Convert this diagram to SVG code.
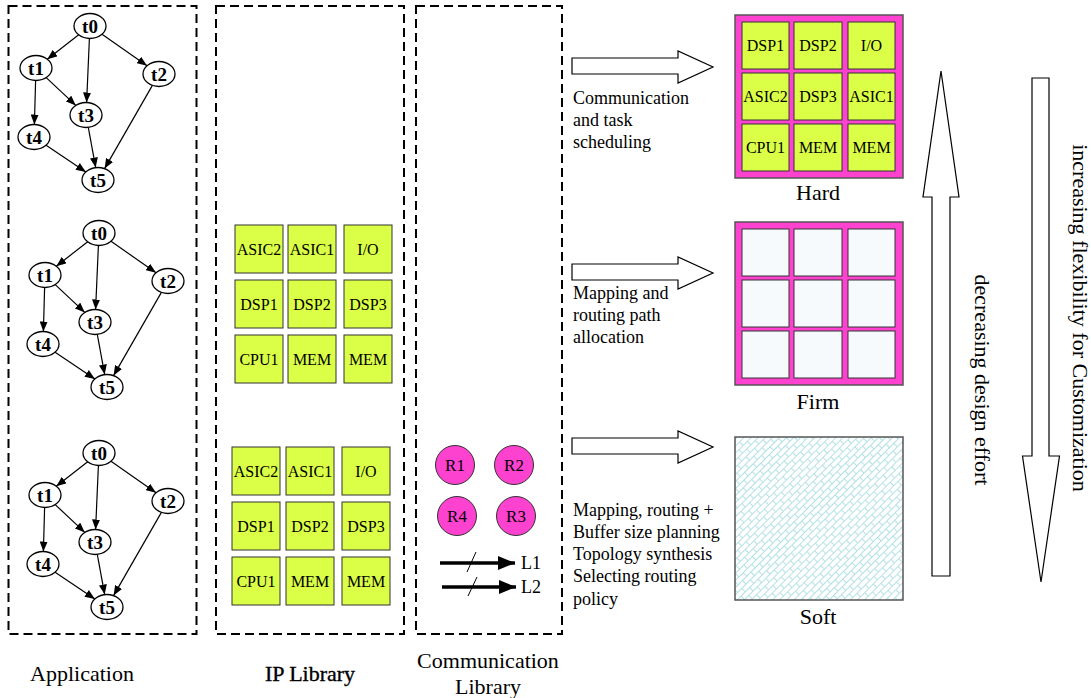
<svg xmlns="http://www.w3.org/2000/svg" width="1091" height="698" viewBox="0 0 1091 698">
<style>
text{font-family:'Liberation Serif','Times New Roman',Times,'Nimbus Roman',serif}
.box{fill:none;stroke:#000;stroke-width:2;stroke-dasharray:9 5}
.nd{fill:#fff;stroke:#000;stroke-width:1.3}
.nt{font-weight:bold;font-size:19px;text-anchor:middle;fill:#000}
.ed{stroke:#000;stroke-width:1.2;fill:none;marker-end:url(#ah)}
.ip{fill:#dbff46;stroke:#333;stroke-width:1}
.fm{fill:#f6fafd;stroke:#333;stroke-width:1}
.ct{font-size:16px;text-anchor:middle;fill:#000}
.lb{font-size:18px;fill:#000}
.big{font-size:22px;text-anchor:middle;fill:#000}
.rt{fill:#fc42cf;stroke:#333;stroke-width:1}
.rl{font-size:17px;text-anchor:middle;fill:#000}
.barr{fill:#fff;stroke:#000;stroke-width:1.2}
</style>
<defs>
<marker id="ah" markerWidth="10" markerHeight="8" refX="10" refY="4" orient="auto" markerUnits="userSpaceOnUse">
<path d="M0,0 L10,4 L0,8 Z" fill="#000"/>
</marker>
<marker id="ahb" markerWidth="18" markerHeight="14" refX="17" refY="7" orient="auto" markerUnits="userSpaceOnUse">
<path d="M0,0 L17,7 L0,14 Z" fill="#000"/>
</marker>
<pattern id="brick" width="12" height="10" patternUnits="userSpaceOnUse" patternTransform="rotate(-45)">
<rect width="12" height="10" fill="#fff"/>
<path d="M0,0.5 H12 M0,5.5 H12 M0.5,0.5 V5.5 M6.5,5.5 V10.5" stroke="#b3e1e6" stroke-width="1" fill="none"/>
</pattern>
</defs>

<g id="boxes">
<rect class="box" x="8.5" y="6" width="188" height="628"/>
<rect class="box" x="216" y="6" width="188" height="628"/>
<rect class="box" x="416" y="6" width="146" height="628"/>
</g>

<!-- Application graph 1 -->
<g id="app1" transform="translate(90,26)">
<g id="app1-edges">
<line class="ed" x1="-11.3" y1="8.8" x2="-42.7" y2="33.2"/>
<line class="ed" x1="-0.6" y1="12.5" x2="-3.4" y2="76.5"/>
<line class="ed" x1="12" y1="8.3" x2="57" y2="39.7"/>
<line class="ed" x1="-43.8" y1="51.6" x2="-14.2" y2="79.4"/>
<line class="ed" x1="-54.4" y1="54.5" x2="-55.6" y2="98.5"/>
<line class="ed" x1="-1.7" y1="101.4" x2="5.7" y2="141.6"/>
<line class="ed" x1="-43.9" y1="119.2" x2="-4.1" y2="145.9"/>
<line class="ed" x1="62.4" y1="59.4" x2="14.6" y2="142.6"/>
</g>
<g id="app1-t0"><ellipse class="nd" cx="0" cy="0" rx="16" ry="12.5"/><text class="nt" x="0" y="6.5">t0</text></g>
<g id="app1-t1"><ellipse class="nd" cx="-54" cy="42" rx="16" ry="12.5"/><text class="nt" x="-54" y="48.5">t1</text></g>
<g id="app1-t2"><ellipse class="nd" cx="69" cy="48" rx="16" ry="12.5"/><text class="nt" x="69" y="54.5">t2</text></g>
<g id="app1-t3"><ellipse class="nd" cx="-4" cy="89" rx="16" ry="12.5"/><text class="nt" x="-4" y="95.5">t3</text></g>
<g id="app1-t4"><ellipse class="nd" cx="-56" cy="111" rx="16" ry="12.5"/><text class="nt" x="-56" y="117.5">t4</text></g>
<g id="app1-t5"><ellipse class="nd" cx="8" cy="154" rx="16" ry="12.5"/><text class="nt" x="8" y="160.5">t5</text></g>
</g>

<!-- Application graph 2 -->
<g id="app2" transform="translate(99,233)">
<g id="app2-edges">
<line class="ed" x1="-11.3" y1="8.8" x2="-42.7" y2="33.2"/>
<line class="ed" x1="-0.6" y1="12.5" x2="-3.4" y2="76.5"/>
<line class="ed" x1="12" y1="8.3" x2="57" y2="39.7"/>
<line class="ed" x1="-43.8" y1="51.6" x2="-14.2" y2="79.4"/>
<line class="ed" x1="-54.4" y1="54.5" x2="-55.6" y2="98.5"/>
<line class="ed" x1="-1.7" y1="101.4" x2="5.7" y2="141.6"/>
<line class="ed" x1="-43.9" y1="119.2" x2="-4.1" y2="145.9"/>
<line class="ed" x1="62.4" y1="59.4" x2="14.6" y2="142.6"/>
</g>
<g id="app2-t0"><ellipse class="nd" cx="0" cy="0" rx="16" ry="12.5"/><text class="nt" x="0" y="6.5">t0</text></g>
<g id="app2-t1"><ellipse class="nd" cx="-54" cy="42" rx="16" ry="12.5"/><text class="nt" x="-54" y="48.5">t1</text></g>
<g id="app2-t2"><ellipse class="nd" cx="69" cy="48" rx="16" ry="12.5"/><text class="nt" x="69" y="54.5">t2</text></g>
<g id="app2-t3"><ellipse class="nd" cx="-4" cy="89" rx="16" ry="12.5"/><text class="nt" x="-4" y="95.5">t3</text></g>
<g id="app2-t4"><ellipse class="nd" cx="-56" cy="111" rx="16" ry="12.5"/><text class="nt" x="-56" y="117.5">t4</text></g>
<g id="app2-t5"><ellipse class="nd" cx="8" cy="154" rx="16" ry="12.5"/><text class="nt" x="8" y="160.5">t5</text></g>
</g>

<!-- Application graph 3 -->
<g id="app3" transform="translate(99,453)">
<g id="app3-edges">
<line class="ed" x1="-11.3" y1="8.8" x2="-42.7" y2="33.2"/>
<line class="ed" x1="-0.6" y1="12.5" x2="-3.4" y2="76.5"/>
<line class="ed" x1="12" y1="8.3" x2="57" y2="39.7"/>
<line class="ed" x1="-43.8" y1="51.6" x2="-14.2" y2="79.4"/>
<line class="ed" x1="-54.4" y1="54.5" x2="-55.6" y2="98.5"/>
<line class="ed" x1="-1.7" y1="101.4" x2="5.7" y2="141.6"/>
<line class="ed" x1="-43.9" y1="119.2" x2="-4.1" y2="145.9"/>
<line class="ed" x1="62.4" y1="59.4" x2="14.6" y2="142.6"/>
</g>
<g id="app3-t0"><ellipse class="nd" cx="0" cy="0" rx="16" ry="12.5"/><text class="nt" x="0" y="6.5">t0</text></g>
<g id="app3-t1"><ellipse class="nd" cx="-54" cy="42" rx="16" ry="12.5"/><text class="nt" x="-54" y="48.5">t1</text></g>
<g id="app3-t2"><ellipse class="nd" cx="69" cy="48" rx="16" ry="12.5"/><text class="nt" x="69" y="54.5">t2</text></g>
<g id="app3-t3"><ellipse class="nd" cx="-4" cy="89" rx="16" ry="12.5"/><text class="nt" x="-4" y="95.5">t3</text></g>
<g id="app3-t4"><ellipse class="nd" cx="-56" cy="111" rx="16" ry="12.5"/><text class="nt" x="-56" y="117.5">t4</text></g>
<g id="app3-t5"><ellipse class="nd" cx="8" cy="154" rx="16" ry="12.5"/><text class="nt" x="8" y="160.5">t5</text></g>
</g>

<!-- IP library set 1 -->
<g id="ip1">
<g id="ip1-asic2"><rect class="ip" x="235" y="225" width="48" height="48"/><text class="ct" x="259" y="255">ASIC2</text></g>
<g id="ip1-asic1"><rect class="ip" x="288" y="225" width="48" height="48"/><text class="ct" x="312" y="255">ASIC1</text></g>
<g id="ip1-io"><rect class="ip" x="344" y="225" width="48" height="48"/><text class="ct" x="368" y="255">I/O</text></g>
<g id="ip1-dsp1"><rect class="ip" x="235" y="280" width="48" height="48"/><text class="ct" x="259" y="310">DSP1</text></g>
<g id="ip1-dsp2"><rect class="ip" x="288" y="280" width="48" height="48"/><text class="ct" x="312" y="310">DSP2</text></g>
<g id="ip1-dsp3"><rect class="ip" x="344" y="280" width="48" height="48"/><text class="ct" x="368" y="310">DSP3</text></g>
<g id="ip1-cpu1"><rect class="ip" x="235" y="335" width="48" height="48"/><text class="ct" x="259" y="365">CPU1</text></g>
<g id="ip1-mem1"><rect class="ip" x="288" y="335" width="48" height="48"/><text class="ct" x="312" y="365">MEM</text></g>
<g id="ip1-mem2"><rect class="ip" x="344" y="335" width="48" height="48"/><text class="ct" x="368" y="365">MEM</text></g>
</g>

<!-- IP library set 2 -->
<g id="ip2">
<g id="ip2-asic2"><rect class="ip" x="232" y="447" width="48" height="48"/><text class="ct" x="256" y="477">ASIC2</text></g>
<g id="ip2-asic1"><rect class="ip" x="286" y="447" width="48" height="48"/><text class="ct" x="310" y="477">ASIC1</text></g>
<g id="ip2-io"><rect class="ip" x="342" y="447" width="48" height="48"/><text class="ct" x="366" y="477">I/O</text></g>
<g id="ip2-dsp1"><rect class="ip" x="232" y="502" width="48" height="48"/><text class="ct" x="256" y="532">DSP1</text></g>
<g id="ip2-dsp2"><rect class="ip" x="286" y="502" width="48" height="48"/><text class="ct" x="310" y="532">DSP2</text></g>
<g id="ip2-dsp3"><rect class="ip" x="342" y="502" width="48" height="48"/><text class="ct" x="366" y="532">DSP3</text></g>
<g id="ip2-cpu1"><rect class="ip" x="232" y="557" width="48" height="48"/><text class="ct" x="256" y="587">CPU1</text></g>
<g id="ip2-mem1"><rect class="ip" x="286" y="557" width="48" height="48"/><text class="ct" x="310" y="587">MEM</text></g>
<g id="ip2-mem2"><rect class="ip" x="342" y="557" width="48" height="48"/><text class="ct" x="366" y="587">MEM</text></g>
</g>

<!-- Communication library -->
<g id="comm">
<g id="r1"><circle class="rt" cx="455" cy="465" r="19.5"/><text class="rl" x="455" y="471">R1</text></g>
<g id="r2"><circle class="rt" cx="514" cy="465" r="19.5"/><text class="rl" x="514" y="471">R2</text></g>
<g id="r4"><circle class="rt" cx="457" cy="516" r="19.5"/><text class="rl" x="457" y="522">R4</text></g>
<g id="r3"><circle class="rt" cx="516" cy="516" r="19.5"/><text class="rl" x="516" y="522">R3</text></g>
<g id="l1">
<line x1="440" y1="563" x2="515" y2="563" stroke="#000" stroke-width="3.5" marker-end="url(#ahb)"/>
<line x1="467" y1="572" x2="476" y2="552" stroke="#000" stroke-width="1"/>
<text class="lb" x="521" y="569">L1</text>
</g>
<g id="l2">
<line x1="442" y1="587" x2="516" y2="587" stroke="#000" stroke-width="3.5" marker-end="url(#ahb)"/>
<line x1="468" y1="596" x2="477" y2="577" stroke="#000" stroke-width="1"/>
<text class="lb" x="521" y="593">L2</text>
</g>
</g>

<!-- Hard -->
<g id="hard">
<rect x="735" y="15" width="168" height="163" fill="#fc42cf" stroke="#555" stroke-width="1.5"/>
<g id="h-dsp1"><rect class="ip" x="742" y="22" width="47" height="47"/><text class="ct" x="765.5" y="51">DSP1</text></g>
<g id="h-dsp2"><rect class="ip" x="794" y="22" width="48" height="47"/><text class="ct" x="818" y="51">DSP2</text></g>
<g id="h-io"><rect class="ip" x="848" y="22" width="47" height="47"/><text class="ct" x="871.5" y="51">I/O</text></g>
<g id="h-asic2"><rect class="ip" x="742" y="73" width="47" height="47"/><text class="ct" x="765.5" y="102">ASIC2</text></g>
<g id="h-dsp3"><rect class="ip" x="794" y="73" width="48" height="47"/><text class="ct" x="818" y="102">DSP3</text></g>
<g id="h-asic1"><rect class="ip" x="848" y="73" width="47" height="47"/><text class="ct" x="871.5" y="102">ASIC1</text></g>
<g id="h-cpu1"><rect class="ip" x="742" y="124" width="47" height="47"/><text class="ct" x="765.5" y="153">CPU1</text></g>
<g id="h-mem1"><rect class="ip" x="794" y="124" width="48" height="47"/><text class="ct" x="818" y="153">MEM</text></g>
<g id="h-mem2"><rect class="ip" x="848" y="124" width="47" height="47"/><text class="ct" x="871.5" y="153">MEM</text></g>
<text class="big" x="818" y="200">Hard</text>
</g>

<!-- Firm -->
<g id="firm">
<rect x="735" y="222" width="168" height="163" fill="#fc42cf" stroke="#555" stroke-width="1.5"/>
<rect class="fm" x="742" y="229" width="47" height="47"/>
<rect class="fm" x="794" y="229" width="48" height="47"/>
<rect class="fm" x="848" y="229" width="47" height="47"/>
<rect class="fm" x="742" y="280" width="47" height="47"/>
<rect class="fm" x="794" y="280" width="48" height="47"/>
<rect class="fm" x="848" y="280" width="47" height="47"/>
<rect class="fm" x="742" y="331" width="47" height="47"/>
<rect class="fm" x="794" y="331" width="48" height="47"/>
<rect class="fm" x="848" y="331" width="47" height="47"/>
<text class="big" x="818" y="409">Firm</text>
</g>

<!-- Soft -->
<g id="soft">
<rect x="735" y="437" width="168" height="163" fill="url(#brick)" stroke="#555" stroke-width="1.5"/>
<text class="big" x="818" y="624">Soft</text>
</g>

<!-- block arrows with labels -->
<g id="flow">
<g id="flow-hard">
<path class="barr" d="M572,58 L678,58 L678,51 L713,67 L678,83 L678,74 L572,74 Z"/>
<text class="lb" x="573" y="104">Communication</text>
<text class="lb" x="573" y="126">and task</text>
<text class="lb" x="573" y="148">scheduling</text>
</g>
<g id="flow-firm">
<path class="barr" d="M572,264 L678,264 L678,257 L713,273 L678,289 L678,280 L572,280 Z"/>
<text class="lb" x="573" y="299">Mapping and</text>
<text class="lb" x="573" y="321">routing path</text>
<text class="lb" x="573" y="343">allocation</text>
</g>
<g id="flow-soft">
<path class="barr" d="M572,438 L678,438 L678,431 L713,447 L678,463 L678,454 L572,454 Z"/>
<text class="lb" x="573" y="516">Mapping, routing +</text>
<text class="lb" x="573" y="538">Buffer size planning</text>
<text class="lb" x="573" y="560">Topology synthesis</text>
<text class="lb" x="573" y="582">Selecting routing</text>
<text class="lb" x="573" y="605">policy</text>
</g>
</g>

<!-- vertical arrows -->
<g id="effort">
<path class="barr" d="M932,576 L932,197 L923,197 L941,71 L959,197 L950,197 L950,576 Z"/>
<text class="big" transform="translate(975,380) rotate(90)" x="0" y="0">decreasing design effort</text>
</g>
<g id="flex">
<path class="barr" d="M1032,78 L1049,78 L1049,456 L1059.5,456 L1041,582 L1022.5,456 L1032,456 Z"/>
<text class="big" transform="translate(1073,318) rotate(90)" x="0" y="0">increasing flexibility for Customization</text>
</g>

<!-- column labels -->
<g id="labels">
<text class="big" x="82" y="681">Application</text>
<text class="big" x="310" y="681" stroke="#000" stroke-width="0.35">IP Library</text>
<text class="big" x="488" y="668">Communication</text>
<text class="big" x="488" y="694">Library</text>
</g>
</svg>
